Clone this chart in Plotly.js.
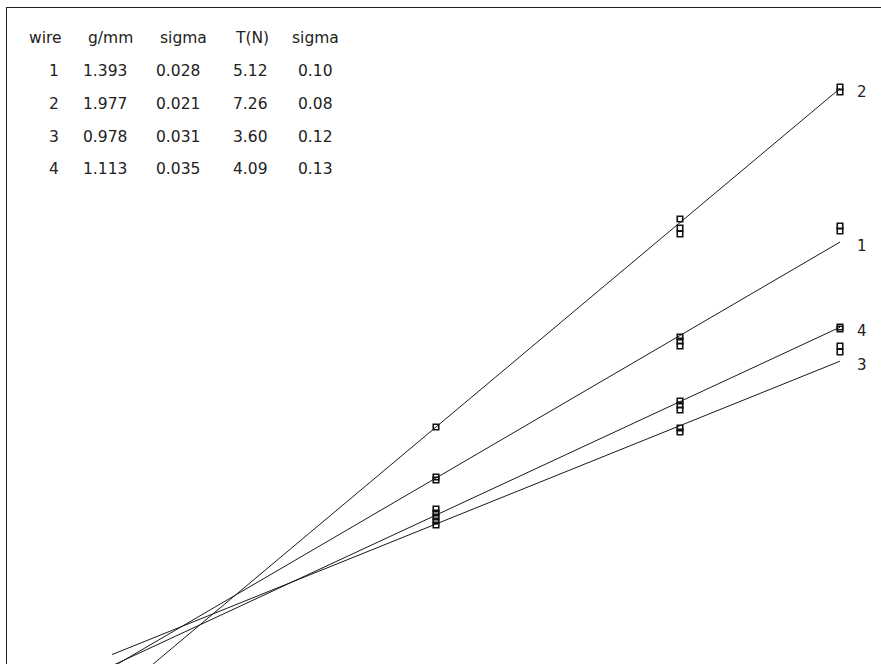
<!DOCTYPE html>
<html>
<head>
<meta charset="utf-8">
<script src="https://cdn.plot.ly/plotly-3.0.1.min.js"></script>
<style>
html,body{margin:0;padding:0;background:#fff;}
#chart{width:881px;height:664px;}
</style>
</head>
<body>
<div id="chart"></div>
<script>
// ---- data ----
var wires = ['1', '2', '3', '4'];
var gPerMm = ['1.393', '1.977', '0.978', '1.113'];
var gSigma = ['0.028', '0.021', '0.031', '0.035'];
var tension = ['5.12', '7.26', '3.60', '4.09'];
var tSigma = ['0.10', '0.08', '0.12', '0.13'];
var headers = ['wire', 'g/mm', 'sigma', 'T(N)', 'sigma'];

// measured points (x, y) per wire
var w1X = [2.31, 2.31, 4.75, 4.75, 4.75, 6.35, 6.35];
var w1Y = [1.43, 1.40, 2.83, 2.79, 2.74, 3.94, 3.89];
var w2X = [2.31, 4.75, 4.75, 4.75, 6.35, 6.35];
var w2Y = [1.93, 4.01, 3.92, 3.86, 5.33, 5.28];
var w3X = [2.31, 2.31, 4.75, 4.75, 6.35, 6.35];
var w3Y = [0.99, 0.95, 1.92, 1.88, 2.74, 2.68];
var w4X = [2.31, 2.31, 2.31, 4.75, 4.75, 4.75, 6.35, 6.35];
var w4Y = [1.11, 1.07, 1.03, 2.19, 2.15, 2.10, 2.93, 2.91];

// fitted lines: slope, intercept (order wire 1..4)
var fitSlope = [0.584, 0.838, 0.403, 0.465];
var fitIntercept = [0.071, -0.006, 0.029, -0.025];
var fitXStart = -0.93;
var fitXEnd = 6.35;

// ---- build ----
var ptsX = [w1X, w2X, w3X, w4X];
var ptsY = [w1Y, w2Y, w3Y, w4Y];
var traces = [];
var annotations = [];
for (var i = 0; i < 4; i++) {
  var xs = [fitXStart, fitXEnd];
  var ys = xs.map(function (x) { return fitSlope[i] * x + fitIntercept[i]; });
  traces.push({
    x: xs, y: ys, mode: 'lines', type: 'scatter',
    line: {color: '#1a1a1a', width: 1}, hoverinfo: 'skip', showlegend: false
  });
  traces.push({
    x: ptsX[i], y: ptsY[i], mode: 'markers', type: 'scatter',
    marker: {symbol: 'square-open', size: 5.5, color: '#111', line: {width: 1.6, color: '#111'}},
    showlegend: false
  });
  annotations.push({
    x: 6.57, y: ys[1] - 0.035, xref: 'x', yref: 'y', text: wires[i],
    showarrow: false, xanchor: 'center', yanchor: 'middle',
    font: {family: 'DejaVu Sans, Arial, sans-serif', size: 15, color: '#222'}
  });
}

// table annotations (pixel positions converted to data coords)
function dx(px) { return (px - 205) / 100; }
function dy(py) { return (620 - py) / 100; }
var colCenters = [45.5, 110, 183, 252, 315.5];
var valCenters = [54, 105, 178, 250, 315.5];
var rowY = [71, 104, 137, 169];
var tfont = {family: 'DejaVu Sans, Arial, sans-serif', size: 15.5, color: '#222'};
headers.forEach(function (h, j) {
  annotations.push({x: dx(colCenters[j]), y: dy(38), xref: 'x', yref: 'y', text: h,
    showarrow: false, xanchor: 'center', yanchor: 'middle', font: tfont});
});
var cols = [wires, gPerMm, gSigma, tension, tSigma];
for (var r = 0; r < 4; r++) {
  for (var c = 0; c < 5; c++) {
    annotations.push({x: dx(valCenters[c]), y: dy(rowY[r]), xref: 'x', yref: 'y', text: cols[c][r],
      showarrow: false, xanchor: 'center', yanchor: 'middle', font: tfont});
  }
}

var layout = {
  width: 881, height: 664,
  margin: {l: 7, r: 0, t: 8, b: 0, pad: 0},
  paper_bgcolor: '#fff', plot_bgcolor: '#fff',
  showlegend: false,
  xaxis: {range: [-1.98, 6.76], side: 'top', showline: true, linecolor: '#222', linewidth: 1.5,
    showgrid: false, zeroline: false, showticklabels: false, ticks: ''},
  yaxis: {range: [-0.44, 6.12], showline: true, linecolor: '#222', linewidth: 1.5,
    showgrid: false, zeroline: false, showticklabels: false, ticks: ''},
  annotations: annotations
};
Plotly.newPlot('chart', traces, layout, {displayModeBar: false, staticPlot: true});
</script>
</body>
</html>
